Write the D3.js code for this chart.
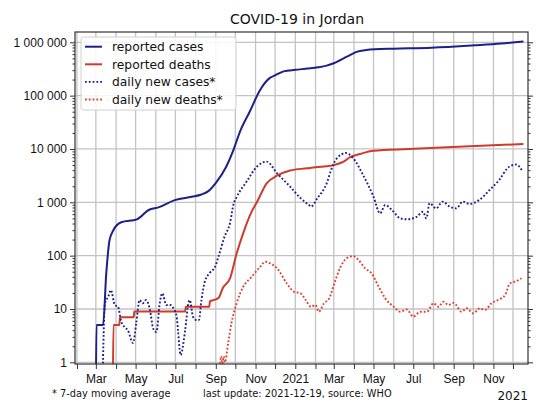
<!DOCTYPE html>
<html>
<head>
<meta charset="utf-8">
<script src="https://cdn.jsdelivr.net/npm/d3@7.9.0/dist/d3.min.js"></script>
<style>
  body { margin: 0; background: #fff; }
  svg { font-family: "DejaVu Sans", sans-serif; }
</style>
</head>
<body>
<svg id="chart" width="550" height="413"></svg>
<script>
// values (log scale, so approximate)
const reportedCases = [
  ["2020-03-01", 0], ["2020-03-02", 5], ["2020-03-12", 5], ["2020-03-17", 47],
  ["2020-03-22", 196], ["2020-03-28", 302], ["2020-04-09", 422], ["2020-05-03", 480],
  ["2020-05-21", 718], ["2020-06-05", 805], ["2020-06-30", 1100], ["2020-07-26", 1270],
  ["2020-08-10", 1400], ["2020-08-20", 1600], ["2020-09-02", 2400], ["2020-09-17", 4650],
  ["2020-09-28", 9500], ["2020-10-08", 21000], ["2020-10-23", 50000], ["2020-11-08", 128000],
  ["2020-11-23", 215000], ["2020-12-01", 240000], ["2020-12-14", 285000], ["2021-01-01", 305000],
  ["2021-01-20", 322000], ["2021-02-05", 340000], ["2021-02-18", 365000], ["2021-03-01", 405000],
  ["2021-03-21", 537000], ["2021-04-05", 660000], ["2021-04-20", 715000], ["2021-05-03", 740000],
  ["2021-06-01", 760000], ["2021-07-29", 794000], ["2021-10-03", 880000], ["2021-11-13", 950000],
  ["2021-12-17", 1040000]
];

const reportedDeaths = [
  ["2020-03-27", 0], ["2020-03-28", 5], ["2020-04-06", 5], ["2020-04-07", 7],
  ["2020-04-28", 7], ["2020-04-29", 9], ["2020-07-16", 9], ["2020-07-17", 11],
  ["2020-08-22", 11], ["2020-08-23", 14], ["2020-08-31", 15], ["2020-09-05", 16],
  ["2020-09-12", 25], ["2020-09-23", 38], ["2020-10-03", 110], ["2020-10-13", 262],
  ["2020-10-26", 667], ["2020-11-03", 1000], ["2020-11-18", 2270], ["2020-12-04", 3150],
  ["2020-12-24", 3950], ["2021-01-19", 4340], ["2021-02-01", 4550], ["2021-02-24", 4850],
  ["2021-03-16", 5780], ["2021-03-26", 7000], ["2021-04-10", 8050], ["2021-05-01", 9300],
  ["2021-06-24", 10000], ["2021-09-08", 11000], ["2021-12-17", 12400]
];

const dailyCases = [
  ["2020-03-11", 0], ["2020-03-15", 12.8], ["2020-03-20", 17], ["2020-03-24", 22.7],
  ["2020-03-30", 11.9], ["2020-04-04", 11], ["2020-04-09", 5.8], ["2020-04-14", 4.6],
  ["2020-04-19", 4.0], ["2020-04-27", 2.3], ["2020-05-02", 5.4], ["2020-05-07", 14.7],
  ["2020-05-12", 12.8], ["2020-05-17", 14.7], ["2020-05-23", 9.6], ["2020-05-28", 4.3],
  ["2020-06-02", 3.7], ["2020-06-07", 12.8], ["2020-06-11", 19.7], ["2020-06-17", 11.9],
  ["2020-06-23", 11.9], ["2020-06-28", 10.3], ["2020-07-03", 7.2], ["2020-07-05", 4.0],
  ["2020-07-09", 1.37], ["2020-07-16", 4.0], ["2020-07-21", 12.8], ["2020-07-23", 14.7],
  ["2020-07-28", 7.2], ["2020-08-02", 6.2], ["2020-08-06", 6.2], ["2020-08-10", 14.7],
  ["2020-08-15", 32], ["2020-08-23", 48], ["2020-08-31", 62], ["2020-09-05", 95],
  ["2020-09-14", 220], ["2020-09-23", 420], ["2020-09-28", 900], ["2020-10-03", 1250],
  ["2020-10-18", 2420], ["2020-11-03", 4650], ["2020-11-18", 5800], ["2020-12-04", 3500],
  ["2020-12-24", 1970], ["2021-01-09", 1200], ["2021-01-22", 887], ["2021-01-25", 830],
  ["2021-02-04", 1200], ["2021-02-19", 2420], ["2021-02-24", 3740], ["2021-03-05", 6500],
  ["2021-03-20", 8400], ["2021-03-30", 6900], ["2021-04-15", 3250], ["2021-05-01", 1270],
  ["2021-05-11", 620], ["2021-05-19", 890], ["2021-05-29", 720], ["2021-06-11", 500],
  ["2021-06-21", 480], ["2021-07-06", 535], ["2021-07-16", 667], ["2021-07-21", 500],
  ["2021-07-26", 960], ["2021-08-05", 770], ["2021-08-15", 1030], ["2021-08-26", 830],
  ["2021-09-05", 770], ["2021-09-15", 1030], ["2021-09-25", 930], ["2021-10-10", 1100],
  ["2021-10-26", 1700], ["2021-11-10", 2640], ["2021-11-25", 4650], ["2021-12-06", 5100],
  ["2021-12-16", 3740]
];

const dailyDeaths = [
  ["2020-09-07", 0.57], ["2020-09-09", 1.29], ["2020-09-11", 0.86], ["2020-09-13", 1.29],
  ["2020-09-15", 1.0], ["2020-09-20", 2.3], ["2020-09-25", 5.4], ["2020-10-03", 12.8],
  ["2020-10-13", 26], ["2020-10-26", 40], ["2020-11-08", 62], ["2020-11-16", 77],
  ["2020-11-23", 72], ["2020-12-04", 58], ["2020-12-19", 30], ["2020-12-30", 21],
  ["2021-01-09", 19.7], ["2021-01-17", 14.7], ["2021-01-25", 11], ["2021-02-01", 11.9],
  ["2021-02-06", 8.9], ["2021-02-14", 12.8], ["2021-02-22", 15.8], ["2021-03-01", 28],
  ["2021-03-11", 60], ["2021-03-21", 90], ["2021-03-31", 98], ["2021-04-08", 83],
  ["2021-04-18", 58], ["2021-04-28", 46.7], ["2021-05-09", 26], ["2021-05-19", 15.8],
  ["2021-06-01", 11], ["2021-06-11", 8.9], ["2021-06-21", 9.8], ["2021-07-01", 7.2],
  ["2021-07-12", 8.9], ["2021-07-22", 8.9], ["2021-08-01", 12.8], ["2021-08-09", 11],
  ["2021-08-16", 13.7], ["2021-08-24", 11.9], ["2021-09-01", 13], ["2021-09-13", 8.9],
  ["2021-09-21", 10.3], ["2021-10-01", 8.3], ["2021-10-11", 10.3], ["2021-10-19", 9.6],
  ["2021-10-29", 12.8], ["2021-11-08", 14.7], ["2021-11-19", 18.3], ["2021-11-26", 30],
  ["2021-12-04", 32.5], ["2021-12-14", 37.6]
];

const legendLabels = ["reported cases", "reported deaths", "daily new cases*", "daily new deaths*"];
const yMajor = [1, 10, 100, 1000, 10000, 100000, 1000000];

const BLUE = "#1d1f8a";
const RED = "#cf3a2f";
const RED_DOT = "#e23c30";

const margin = {left: 75, right: 22, top: 32, bottom: 49};
const W = 550, H = 413;
const plotW = W - margin.left - margin.right;
const plotH = H - margin.top - margin.bottom;

const svg = d3.select("#chart");
const parse = d3.utcParse("%Y-%m-%d");

const x = d3.scaleUtc()
  .domain([parse("2020-01-29"), parse("2021-12-24")])
  .range([margin.left, margin.left + plotW]);

const y = d3.scaleLog()
  .domain([0.93, 1.56e6])
  .range([margin.top + plotH, margin.top]);

const locale = d3.formatLocale({decimal: ".", thousands: " ", grouping: [3], currency: ["", ""]});
const fmtNum = locale.format(",d");

// minor ticks 2..9 per decade
const yMinor = [];
for (let p = 0; p <= 6; p++) {
  for (let m = 2; m <= 9; m++) {
    const v = m * Math.pow(10, p);
    if (v > y.domain()[0] && v < y.domain()[1]) yMinor.push(v);
  }
}
const months = d3.utcMonth.range(d3.utcMonth.ceil(x.domain()[0]), x.domain()[1]);

// grid
const grid = svg.append("g").attr("stroke", "#c3c3c3").attr("stroke-width", 1.3);
grid.selectAll("line.v").data(months).join("line")
  .attr("x1", d => x(d)).attr("x2", d => x(d))
  .attr("y1", margin.top).attr("y2", margin.top + plotH);
grid.selectAll("line.h").data(yMajor).join("line")
  .attr("x1", margin.left).attr("x2", margin.left + plotW)
  .attr("y1", d => y(d)).attr("y2", d => y(d));

// clip
svg.append("defs").append("clipPath").attr("id", "plot-clip")
  .append("rect")
  .attr("x", margin.left).attr("y", margin.top)
  .attr("width", plotW).attr("height", plotH);

const line = d3.line()
  .x(d => x(parse(d[0])))
  .y(d => y(Math.max(d[1], 0.3)))
  .curve(d3.curveMonotoneX);

const series = [
  {data: reportedCases, color: BLUE, dash: null, width: 2},
  {data: reportedDeaths, color: RED, dash: null, width: 2},
  {data: dailyCases, color: BLUE, dash: "1.8,2", width: 1.9},
  {data: dailyDeaths, color: RED_DOT, dash: "1.8,2", width: 1.9}
];

const lines = svg.append("g").attr("clip-path", "url(#plot-clip)");
series.forEach(s => {
  lines.append("path")
    .datum(s.data)
    .attr("fill", "none")
    .attr("stroke", s.color)
    .attr("stroke-width", s.width)
    .attr("stroke-dasharray", s.dash)
    .attr("d", line);
});

// frame
svg.append("rect")
  .attr("x", margin.left).attr("y", margin.top)
  .attr("width", plotW).attr("height", plotH)
  .attr("fill", "none").attr("stroke", "#333").attr("stroke-width", 1.2);

// axes
const axisStyle = g => {
  g.select(".domain").remove();
  g.selectAll("line").attr("stroke", "#333");
  g.selectAll("text").attr("fill", "#111").attr("font-size", 12);
};

svg.append("g")
  .attr("transform", `translate(${margin.left},0)`)
  .call(d3.axisLeft(y).tickValues(yMajor).tickFormat(fmtNum).tickSize(5).tickPadding(3))
  .call(axisStyle);
svg.append("g")
  .attr("transform", `translate(${margin.left},0)`)
  .call(d3.axisLeft(y).tickValues(yMinor).tickFormat("").tickSize(2.5))
  .call(axisStyle);
svg.append("g")
  .attr("transform", `translate(${margin.left + plotW},0)`)
  .call(d3.axisRight(y).tickValues(yMajor).tickFormat("").tickSize(5))
  .call(axisStyle);
svg.append("g")
  .attr("transform", `translate(${margin.left + plotW},0)`)
  .call(d3.axisRight(y).tickValues(yMinor).tickFormat("").tickSize(2.5))
  .call(axisStyle);

svg.append("g")
  .attr("transform", `translate(0,${margin.top + plotH})`)
  .call(d3.axisBottom(x).tickValues(months).tickSize(5).tickPadding(5.5)
    .tickFormat(d => d.getUTCMonth() % 2 === 1 ? "" :
      (d.getUTCMonth() === 0 ? d3.utcFormat("%Y")(d) : d3.utcFormat("%b")(d))))
  .call(axisStyle);

// title and notes
svg.append("text")
  .attr("x", 297).attr("y", 24)
  .attr("text-anchor", "middle").attr("font-size", 14).attr("fill", "#111")
  .text("COVID-19 in Jordan");
svg.append("text")
  .attr("x", 52).attr("y", 397)
  .attr("font-size", 9.8).attr("fill", "#111")
  .text("* 7-day moving average");
svg.append("text")
  .attr("x", 203).attr("y", 397)
  .attr("font-size", 9.8).attr("fill", "#111")
  .text("last update: 2021-12-19, source: WHO");
svg.append("text")
  .attr("x", margin.left + plotW).attr("y", 400)
  .attr("text-anchor", "end").attr("font-size", 12).attr("fill", "#111")
  .text("2021");

// legend
const legend = svg.append("g").attr("transform", "translate(81,37)");
legend.append("rect")
  .attr("width", 155).attr("height", 73).attr("rx", 2.5)
  .attr("fill", "#fff").attr("fill-opacity", 0.85)
  .attr("stroke", "#d0d0d0");
const items = legend.selectAll("g.item").data(series).join("g")
  .attr("transform", (d, i) => `translate(0,${9.7 + i * 17.6})`);
items.append("line")
  .attr("x1", 4).attr("x2", 21)
  .attr("stroke", d => d.color)
  .attr("stroke-width", d => d.width)
  .attr("stroke-dasharray", d => d.dash);
items.append("text")
  .attr("x", 31).attr("y", 4.4)
  .attr("font-size", 12.3).attr("fill", "#111")
  .text((d, i) => legendLabels[i]);
</script>
</body>
</html>
